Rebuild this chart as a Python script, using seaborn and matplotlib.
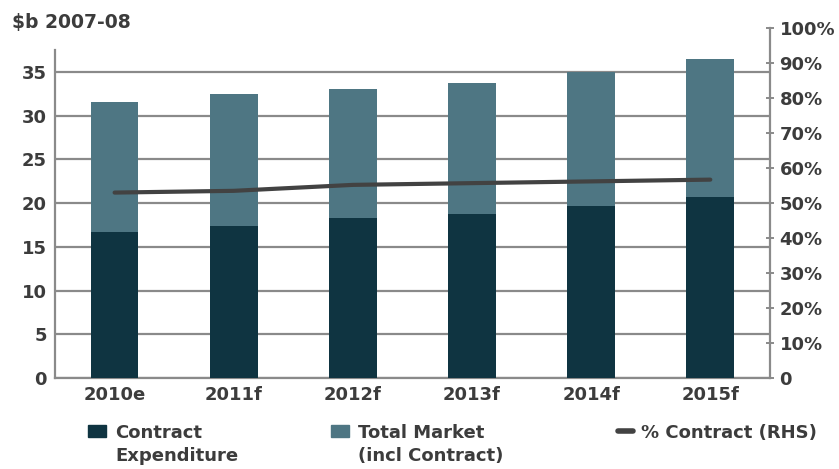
import numpy as np
import pandas as pd
import matplotlib
matplotlib.use("Agg")
import matplotlib.pyplot as plt
import seaborn as sns
from matplotlib.patches import Patch
from matplotlib.lines import Line2D

# Contract expenditure vs total market, $b in 2007-08 dollars
years = ["2010e", "2011f", "2012f", "2013f", "2014f", "2015f"]
total_market = [31.5, 32.5, 33.05, 33.7, 35.0, 36.45]
contract_exp = [16.7, 17.4, 18.3, 18.7, 19.7, 20.7]
pct_contract = [53.0, 53.5, 55.2, 55.7, 56.2, 56.7]

left_ticks = [0, 5, 10, 15, 20, 25, 30, 35]
right_ticks = [0, 10, 20, 30, 40, 50, 60, 70, 80, 90, 100]
right_labels = ["0"] + [f"{t}%" for t in right_ticks[1:]]

DARK = "#0f3441"
TEAL = "#4e7683"
LINE = "#424242"
GRID = "#8a8a8a"
TEXT = "#3c3c3c"

sns.set_theme(style="white")
plt.rcParams["font.family"] = ["DejaVu Sans"]

df = pd.DataFrame({"year": years, "total": total_market,
                   "contract": contract_exp, "pct": pct_contract})

fig = plt.figure(figsize=(8.39, 4.69), dpi=100)
ax = fig.add_axes([0.0656, 0.194, 0.852, 0.746])

sns.barplot(data=df, x="year", y="total", color=TEAL, width=0.4,
            saturation=1, linewidth=0, ax=ax, zorder=2)
sns.barplot(data=df, x="year", y="contract", color=DARK, width=0.4,
            saturation=1, linewidth=0, ax=ax, zorder=3)

ax.set_xlim(-0.5, len(years) - 0.5)
ax.set_ylim(0, 40)
ax.set_yticks(left_ticks)
ax.set_axisbelow(True)
ax.yaxis.grid(True, color=GRID, linewidth=1.6)
ax.xaxis.grid(False)
ax.set_xlabel("")
ax.set_ylabel("")
ax.tick_params(axis="both", length=0, labelsize=13, labelcolor=TEXT, pad=6)
for lbl in ax.get_xticklabels() + ax.get_yticklabels():
    lbl.set_fontweight("semibold")
for side in ["top", "right"]:
    ax.spines[side].set_visible(False)
ax.spines["left"].set_bounds(0, 37.5)
for side in ["left", "bottom"]:
    ax.spines[side].set_color(GRID)
    ax.spines[side].set_linewidth(1.6)

ax2 = ax.twinx()
sns.lineplot(x=np.arange(len(years)), y=pct_contract, color=LINE,
             linewidth=3, ax=ax2)
ax2.set_ylim(0, 100)
ax2.set_yticks(right_ticks)
ax2.set_yticklabels(right_labels)
ax2.set_ylabel("")
ax2.tick_params(axis="y", direction="inout", length=6, width=1.4,
                color=GRID, labelsize=13, labelcolor=TEXT, pad=4)
for lbl in ax2.get_yticklabels():
    lbl.set_fontweight("semibold")
for side in ["top", "left", "bottom"]:
    ax2.spines[side].set_visible(False)
ax2.spines["right"].set_color(GRID)
ax2.spines["right"].set_linewidth(1.6)
ax2.grid(False)

fig.text(0.014, 0.953, "$b 2007-08", fontsize=13.5, color=TEXT,
         fontweight="semibold", va="center", ha="left")

# Legend: each entry's handle sits beside the first line of its label
blank = Patch(color="none")
leg_items = [
    ([Patch(color=DARK), blank], ["Contract", "Expenditure"], 0.105, 1.0, 0.5),
    ([Patch(color=TEAL), blank], ["Total Market", "(incl Contract)"], 0.395, 1.0, 0.5),
    ([Line2D([], [], color=LINE, linewidth=4)], ["% Contract (RHS)"], 0.737, 0.8, 0.45),
]
for handles, labels, xpos, hlen, hpad in leg_items:
    leg = fig.legend(handles, labels, bbox_to_anchor=(xpos, 0.097),
                     loc="upper left", frameon=False, fontsize=13,
                     labelcolor=TEXT, handlelength=hlen, handleheight=0.6,
                     handletextpad=hpad, labelspacing=0.32,
                     borderaxespad=0, borderpad=0)
    for t in leg.get_texts():
        t.set_fontweight("semibold")

fig.savefig("out.png", dpi=100, facecolor="white")
